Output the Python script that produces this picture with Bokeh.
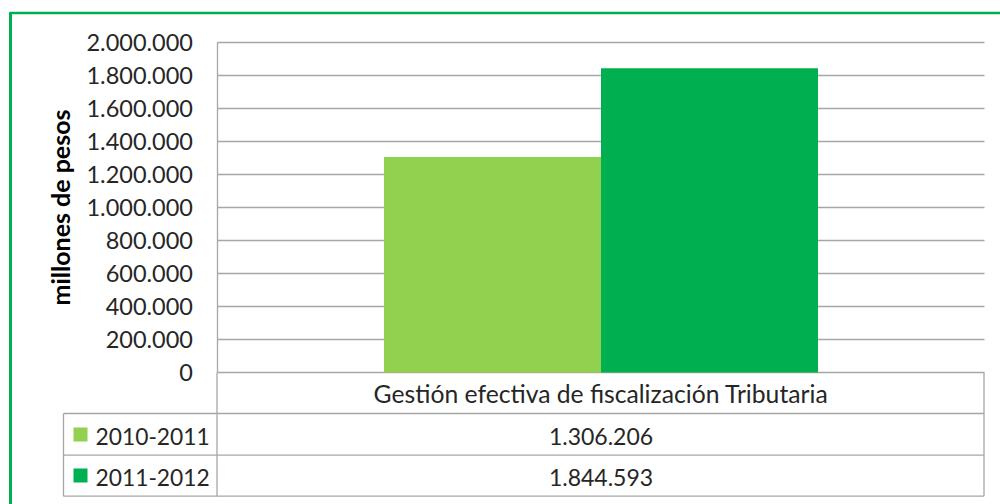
from bokeh.plotting import figure
from bokeh.models import Range1d, FixedTicker
from bokeh.core.properties import value
from bokeh.embed import file_html
from bokeh.resources import INLINE

# ---- data ----
categories = ["Gestión efectiva de fiscalización Tributaria"]
series = ["2010-2011", "2011-2012"]
values = [1306206, 1844593]
colors = ["#92D050", "#00B050"]
y_ticks = [0, 200000, 400000, 600000, 800000, 1000000, 1200000, 1400000,
           1600000, 1800000, 2000000]
y_tick_labels = ["0", "200.000", "400.000", "600.000", "800.000", "1.000.000",
                 "1.200.000", "1.400.000", "1.600.000", "1.800.000", "2.000.000"]
y_label = "millones de pesos"

FONT = "Lato"
TXT = "#262626"
GRID = "#a6a6a6"

# ---- layout helpers (page pixel -> data) ----
PL, PR = 217.0, 984.0      # plot area left/right on page
PZ, PT = 372.0, 42.0       # y of 0 and of top tick on page
YMAX = y_ticks[-1]


def X(px):
    return (px - PL) / (PR - PL)


def Y(py):
    return (PZ - py) * YMAX / (PZ - PT)


def fmt(v):
    return f"{v:,}".replace(",", ".")


W, H = 1000, 504
p = figure(width=W, height=H, x_range=Range1d(X(0), X(W)),
           y_range=Range1d(Y(H), Y(0)), output_backend="svg",
           toolbar_location=None, min_border=0, min_border_left=0,
           min_border_right=0, min_border_top=0, min_border_bottom=0)
p.outline_line_color = None
p.xgrid.visible = False
p.ygrid.visible = False

# gridlines (from tick values)
p.segment(x0=X(PL), x1=X(PR), y0=y_ticks, y1=y_ticks, line_color=GRID,
          line_width=1.3)

# bars
n = len(series)
bw = (600.5 - 383.5) / (PR - PL)
xs = [0.5 + (i - (n - 1) / 2) * bw for i in range(n)]
p.vbar(x=xs, top=values, bottom=0, width=bw, fill_color=colors,
       line_color=None)

# y axis
ya = p.yaxis[0]
ya.fixed_location = X(216.5)
ya.bounds = (0, YMAX)
ya.ticker = FixedTicker(ticks=y_ticks)
ya.major_label_overrides = {t: l for t, l in zip(y_ticks, y_tick_labels)}
ya.major_tick_line_color = None
ya.minor_tick_line_color = None
ya.major_tick_out = 0
ya.major_tick_in = 0
ya.major_label_standoff = 24
ya.major_label_text_font = FONT
ya.major_label_text_font_size = "23.5px"
ya.major_label_text_color = TXT
ya.axis_line_color = GRID
ya.axis_line_width = 1.3
ya.axis_label = y_label
ya.axis_label_text_font = FONT
ya.axis_label_text_font_style = "bold"
ya.axis_label_text_font_size = "25px"
ya.axis_label_text_color = "#000000"
ya.axis_label_standoff = 9

# x axis (category label in first table row)
xa = p.xaxis[0]
xa.fixed_location = 0
xa.ticker = FixedTicker(ticks=[0.5])
xa.major_label_overrides = {0.5: categories[0]}
xa.axis_line_color = None
xa.major_tick_line_color = None
xa.minor_tick_line_color = None
xa.major_tick_out = 0
xa.major_tick_in = 0
xa.major_label_standoff = 6
xa.major_label_text_font = FONT
xa.major_label_text_font_size = "24.7px"
xa.major_label_text_color = TXT

# data table lines
TL = 63.0
TR = 983.5
TB = 495.7
rows = [413.0, 454.7, TB]
p.segment(x0=[X(TL)] * 3, x1=[X(TR)] * 3, y0=[Y(r) for r in rows],
          y1=[Y(r) for r in rows], line_color=GRID, line_width=1.3)
p.segment(x0=[X(TL), X(TR), X(216.5)], x1=[X(TL), X(TR), X(216.5)],
          y0=[Y(413), Y(PZ), Y(PZ)], y1=[Y(TB)] * 3, line_color=GRID,
          line_width=1.3)

# legend keys, series names and values
row_c = [435.5, 476.5]
p.scatter(x=[X(80)] * n, y=[Y(r - 1.5) for r in row_c], marker="square",
          size=14, fill_color=colors, line_color=None)
p.text(x=[X(95)] * n, y=[Y(r) for r in row_c], text=series,
       text_font=value(FONT), text_font_size="22.8px", text_color=TXT,
       text_baseline="middle", text_align="left")
p.text(x=[0.5] * n, y=[Y(r) for r in row_c], text=[fmt(v) for v in values],
       text_font=value(FONT), text_font_size="23px", text_color=TXT,
       text_baseline="middle", text_align="center")

# green outer border
p.segment(x0=[X(10), X(9)], x1=[X(10), X(W)], y0=[Y(12), Y(12.5)],
          y1=[Y(H), Y(12.5)], line_color="#00B050",
          line_width=[3, 2.5])

open("out.html", "w").write(file_html(p, INLINE))
